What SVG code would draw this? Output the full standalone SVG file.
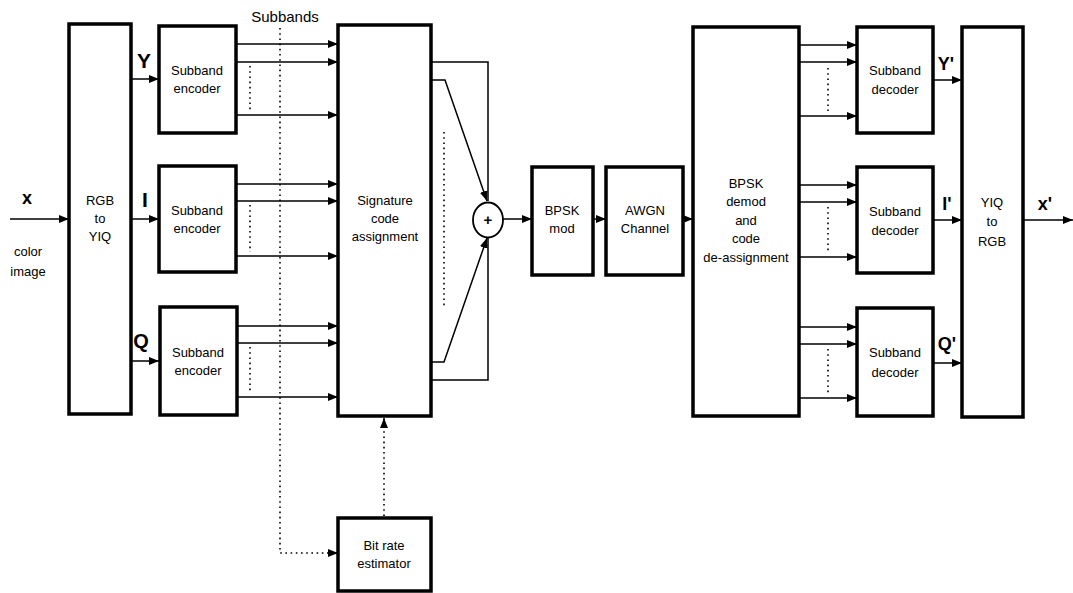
<svg xmlns="http://www.w3.org/2000/svg" width="1073" height="593" viewBox="0 0 1073 593">
<defs>
<marker id="ah" markerUnits="userSpaceOnUse" markerWidth="10" markerHeight="10" viewBox="0 0 10 10" refX="10" refY="5" orient="auto">
<path d="M0,1 L10,5 L0,9 Z" fill="#000"/>
</marker>
</defs>
<style>
.box{fill:#fff;stroke:#000;stroke-width:3.5}
.ln{fill:none;stroke:#000;stroke-width:1.5}
.dot{fill:none;stroke:#000;stroke-width:1.6;stroke-dasharray:1.6 3.6}
.t{font-family:"Liberation Sans",Arial,sans-serif;font-size:13px;text-anchor:middle;fill:#000}
.b{font-family:"Liberation Sans",Arial,sans-serif;font-size:18px;font-weight:bold;text-anchor:middle;fill:#000}
</style>
<rect width="1073" height="593" fill="#fff"/>

<g id="connectors">
<line class="ln" x1="10" y1="219" x2="69" y2="219" marker-end="url(#ah)"/>
<line class="ln" x1="131" y1="79" x2="159" y2="79" marker-end="url(#ah)"/>
<line class="ln" x1="131" y1="219" x2="159" y2="219" marker-end="url(#ah)"/>
<line class="ln" x1="131" y1="361" x2="159" y2="361" marker-end="url(#ah)"/>
<line class="ln" x1="236" y1="44" x2="338" y2="44" marker-end="url(#ah)"/>
<line class="ln" x1="236" y1="62" x2="338" y2="62" marker-end="url(#ah)"/>
<line class="ln" x1="236" y1="115" x2="338" y2="115" marker-end="url(#ah)"/>
<line class="ln" x1="236" y1="184" x2="338" y2="184" marker-end="url(#ah)"/>
<line class="ln" x1="236" y1="201" x2="338" y2="201" marker-end="url(#ah)"/>
<line class="ln" x1="236" y1="256" x2="338" y2="256" marker-end="url(#ah)"/>
<line class="ln" x1="236" y1="326" x2="338" y2="326" marker-end="url(#ah)"/>
<line class="ln" x1="236" y1="343" x2="338" y2="343" marker-end="url(#ah)"/>
<line class="ln" x1="236" y1="397" x2="338" y2="397" marker-end="url(#ah)"/>
<line class="dot" x1="250" y1="66" x2="250" y2="110"/>
<line class="dot" x1="250" y1="205" x2="250" y2="252"/>
<line class="dot" x1="250" y1="347" x2="250" y2="392"/>
<polyline class="dot" points="280,28 280,553 336,553"/>
<line class="ln" x1="334" y1="553" x2="338" y2="553" marker-end="url(#ah)"/>
<line class="dot" x1="384" y1="516" x2="384" y2="428"/>
<line class="ln" x1="384" y1="427" x2="384" y2="418" marker-end="url(#ah)"/>
<polyline class="ln" points="431,62 488,62 488,201"/>
<polyline class="ln" points="431,80 445,80 487,201" marker-end="url(#ah)"/>
<polyline class="ln" points="431,380 488,380 488,238"/>
<polyline class="ln" points="431,362 444,362 487,238" marker-end="url(#ah)"/>
<line class="dot" x1="444" y1="132" x2="444" y2="307"/>
<line class="ln" x1="503" y1="219" x2="532" y2="219" marker-end="url(#ah)"/>
<line class="ln" x1="593" y1="219" x2="606" y2="219" marker-end="url(#ah)"/>
<line class="ln" x1="683" y1="219" x2="693" y2="219" marker-end="url(#ah)"/>
<line class="ln" x1="799" y1="45" x2="857" y2="45" marker-end="url(#ah)"/>
<line class="ln" x1="799" y1="62" x2="857" y2="62" marker-end="url(#ah)"/>
<line class="ln" x1="799" y1="116" x2="857" y2="116" marker-end="url(#ah)"/>
<line class="ln" x1="799" y1="185" x2="857" y2="185" marker-end="url(#ah)"/>
<line class="ln" x1="799" y1="202" x2="857" y2="202" marker-end="url(#ah)"/>
<line class="ln" x1="799" y1="257" x2="857" y2="257" marker-end="url(#ah)"/>
<line class="ln" x1="799" y1="327" x2="857" y2="327" marker-end="url(#ah)"/>
<line class="ln" x1="799" y1="344" x2="857" y2="344" marker-end="url(#ah)"/>
<line class="ln" x1="799" y1="398" x2="857" y2="398" marker-end="url(#ah)"/>
<line class="dot" x1="828" y1="68" x2="828" y2="111"/>
<line class="dot" x1="828" y1="207" x2="828" y2="252"/>
<line class="dot" x1="828" y1="349" x2="828" y2="393"/>
<line class="ln" x1="933" y1="80" x2="962" y2="80" marker-end="url(#ah)"/>
<line class="ln" x1="933" y1="220" x2="962" y2="220" marker-end="url(#ah)"/>
<line class="ln" x1="933" y1="363" x2="962" y2="363" marker-end="url(#ah)"/>
<line class="ln" x1="1023" y1="220" x2="1073" y2="220" marker-end="url(#ah)"/>
</g>

<g id="labels">
<text class="b" x="27" y="204">x</text>
<text class="t" x="28" y="256">color</text>
<text class="t" x="28" y="276">image</text>
<text class="b" x="144" y="68" style="font-size:21px">Y</text>
<text class="b" x="145" y="207" style="font-size:21px">I</text>
<text class="b" x="141" y="348" style="font-size:20px">Q</text>
<text class="t" x="285" y="22" style="font-size:15px">Subbands</text>
<text class="b" x="946" y="70">Y'</text>
<text class="b" x="947" y="210">I'</text>
<text class="b" x="947" y="350">Q'</text>
<text class="b" x="1045" y="210">x'</text>
</g>

<g id="rgb2yiq">
<rect class="box" x="69" y="24" width="62" height="390"/>
<text class="t" x="100" y="205">RGB</text>
<text class="t" x="100" y="223">to</text>
<text class="t" x="100" y="241">YIQ</text>
</g>
<g id="enc1">
<rect class="box" x="159" y="26" width="77" height="107"/>
<text class="t" x="197" y="75">Subband</text>
<text class="t" x="197" y="93">encoder</text>
</g>
<g id="enc2">
<rect class="box" x="159" y="166" width="77" height="106"/>
<text class="t" x="197" y="215">Subband</text>
<text class="t" x="197" y="233">encoder</text>
</g>
<g id="enc3">
<rect class="box" x="160" y="307" width="77" height="108"/>
<text class="t" x="198" y="357">Subband</text>
<text class="t" x="198" y="375">encoder</text>
</g>
<g id="signature">
<rect class="box" x="338" y="25" width="93" height="391"/>
<text class="t" x="385" y="205">Signature</text>
<text class="t" x="385" y="223">code</text>
<text class="t" x="385" y="241">assignment</text>
</g>
<g id="adder">
<ellipse cx="488" cy="220" rx="15" ry="17.5" fill="#fff" stroke="#000" stroke-width="1.8"/>
<text class="t" x="488" y="225" style="font-size:15px;font-weight:bold">+</text>
</g>
<g id="bitrate">
<rect class="box" x="338" y="518" width="93" height="73"/>
<text class="t" x="384" y="550">Bit rate</text>
<text class="t" x="384" y="568">estimator</text>
</g>
<g id="bpskmod">
<rect class="box" x="532" y="167" width="61" height="108"/>
<text class="t" x="562" y="215">BPSK</text>
<text class="t" x="562" y="233">mod</text>
</g>
<g id="awgn">
<rect class="box" x="606" y="167" width="77" height="108"/>
<text class="t" x="645" y="215">AWGN</text>
<text class="t" x="645" y="233">Channel</text>
</g>
<g id="demod">
<rect class="box" x="693" y="27" width="106" height="389"/>
<text class="t" x="746" y="188">BPSK</text>
<text class="t" x="746" y="206">demod</text>
<text class="t" x="746" y="225">and</text>
<text class="t" x="746" y="243">code</text>
<text class="t" x="746" y="262">de-assignment</text>
</g>
<g id="dec1">
<rect class="box" x="857" y="27" width="76" height="106"/>
<text class="t" x="895" y="75">Subband</text>
<text class="t" x="895" y="94">decoder</text>
</g>
<g id="dec2">
<rect class="box" x="857" y="167" width="76" height="106"/>
<text class="t" x="895" y="216">Subband</text>
<text class="t" x="895" y="235">decoder</text>
</g>
<g id="dec3">
<rect class="box" x="857" y="308" width="76" height="108"/>
<text class="t" x="895" y="357">Subband</text>
<text class="t" x="895" y="377">decoder</text>
</g>
<g id="yiq2rgb">
<rect class="box" x="962" y="27" width="61" height="390"/>
<text class="t" x="992" y="207">YIQ</text>
<text class="t" x="992" y="226">to</text>
<text class="t" x="992" y="246">RGB</text>
</g>
</svg>
